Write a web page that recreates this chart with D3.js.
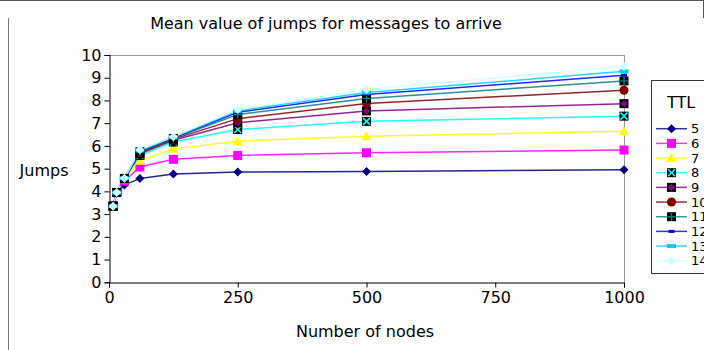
<!DOCTYPE html>
<html><head><meta charset="utf-8">
<script src="https://cdn.jsdelivr.net/npm/d3@7"></script>
<style>body{margin:0;background:#fff}svg{display:block}text{font-family:"DejaVu Sans",sans-serif}</style>
</head><body>
<script>
const nodes = [8, 15, 30, 60, 125, 250, 500, 1000];
const ttl = ["5","6","7","8","9","10","11","12","13","14"];
const s5  = [3.35, 3.93, 4.28, 4.57, 4.76, 4.85, 4.88, 4.95];
const s6  = [3.35, 3.95, 4.45, 5.07, 5.41, 5.58, 5.70, 5.82];
const s7  = [3.35, 3.95, 4.50, 5.35, 5.87, 6.21, 6.43, 6.64];
const s8  = [3.35, 3.95, 4.55, 5.58, 6.17, 6.72, 7.08, 7.31];
const s9  = [3.35, 3.95, 4.56, 5.65, 6.25, 7.02, 7.54, 7.86];
const s10 = [3.35, 3.95, 4.57, 5.70, 6.30, 7.20, 7.87, 8.45];
const s11 = [3.35, 3.95, 4.57, 5.74, 6.33, 7.38, 8.09, 8.86];
const s12 = [3.35, 3.95, 4.58, 5.77, 6.36, 7.48, 8.26, 9.11];
const s13 = [3.35, 3.95, 4.58, 5.80, 6.38, 7.54, 8.35, 9.28];
const s14 = [3.35, 3.95, 4.58, 5.83, 6.40, 7.60, 8.48, 9.51];
const seriesValues = [s5, s6, s7, s8, s9, s10, s11, s12, s13, s14];
const colors = ["#000080","#ff00ff","#ffff00","#00ffff","#800080","#800000","#008080","#0000ff","#00ccff","#ccffff"];
const markers = ["diamond","square","triangle","xsquare","starsquare","circle","plussquare","dash","bar","diamond"];
const xTicks = [0, 250, 500, 750, 1000];
const yTicks = [0,1,2,3,4,5,6,7,8,9,10];

const W = 704, H = 350;
const svg = d3.select("body").append("svg").attr("width", W).attr("height", H);

// outer frame fragments
svg.append("line").attr("x1",0).attr("x2",W).attr("y1",0.5).attr("y2",0.5).attr("stroke","#555");
svg.append("line").attr("x1",703.5).attr("x2",703.5).attr("y1",0).attr("y2",18).attr("stroke","#555");
svg.append("line").attr("x1",8.5).attr("x2",8.5).attr("y1",18).attr("y2",H).attr("stroke","#777");

const x = d3.scaleLinear().domain([0,1000]).range([109,624]);
const y = d3.scaleLinear().domain([0,10]).range([282.3,55]);

// plot frame (top/right gray)
svg.append("line").attr("x1",x(0)).attr("x2",x(1000)).attr("y1",55.5).attr("y2",55.5).attr("stroke","#999");
svg.append("line").attr("x1",624.5).attr("x2",624.5).attr("y1",55).attr("y2",282).attr("stroke","#999");

const yAxis = svg.append("g").attr("transform","translate(109.5,0)")
  .call(d3.axisLeft(y).tickValues(yTicks).tickFormat(d3.format("d")).tickSizeOuter(0).tickSize(5).tickPadding(3));
const xAxis = svg.append("g").attr("transform","translate(0,282.5)")
  .call(d3.axisBottom(x).tickValues(xTicks).tickFormat(d3.format("d")).tickSizeOuter(0).tickSize(5).tickPadding(4));
[yAxis, xAxis].forEach(a => {
  a.selectAll("text").attr("font-size", 16).attr("font-family", "DejaVu Sans").attr("fill","#000");
  a.selectAll("path,line").attr("stroke","#000");
});

svg.append("text").attr("x",326).attr("y",29).attr("text-anchor","middle").attr("font-size",16).text("Mean value of jumps for messages to arrive");
svg.append("text").attr("x",44).attr("y",176).attr("text-anchor","middle").attr("font-size",16).text("Jumps");
svg.append("text").attr("x",365).attr("y",337).attr("text-anchor","middle").attr("font-size",16).text("Number of nodes");

function drawMarker(g, type, color, cx, cy) {
  switch (type) {
    case "diamond":
      g.append("path").attr("d",`M${cx},${cy-4.5}L${cx+4.5},${cy}L${cx},${cy+4.5}L${cx-4.5},${cy}Z`).attr("fill",color); break;
    case "square":
      g.append("rect").attr("x",cx-4.5).attr("y",cy-4.5).attr("width",9).attr("height",9).attr("fill",color); break;
    case "triangle":
      g.append("path").attr("d",`M${cx},${cy-5}L${cx+5},${cy+4}L${cx-5},${cy+4}Z`).attr("fill",color); break;
    case "circle":
      g.append("circle").attr("cx",cx).attr("cy",cy).attr("r",4.5).attr("fill",color); break;
    case "xsquare":
      g.append("rect").attr("x",cx-4.5).attr("y",cy-4.5).attr("width",9).attr("height",9).attr("fill","#000");
      g.append("path").attr("d",`M${cx-3.5},${cy-3.5}L${cx+3.5},${cy+3.5}M${cx+3.5},${cy-3.5}L${cx-3.5},${cy+3.5}`).attr("stroke",color).attr("stroke-width",1.6); break;
    case "starsquare":
      g.append("rect").attr("x",cx-4.5).attr("y",cy-4.5).attr("width",9).attr("height",9).attr("fill","#000");
      g.append("circle").attr("cx",cx).attr("cy",cy).attr("r",2.6).attr("fill",color);
      g.append("path").attr("d",`M${cx-3.5},${cy}L${cx+3.5},${cy}M${cx},${cy-3.5}L${cx},${cy+3.5}M${cx-2.5},${cy-2.5}L${cx+2.5},${cy+2.5}M${cx+2.5},${cy-2.5}L${cx-2.5},${cy+2.5}`).attr("stroke",color).attr("stroke-width",1); break;
    case "plussquare":
      g.append("rect").attr("x",cx-4.5).attr("y",cy-4.5).attr("width",9).attr("height",9).attr("fill","#000");
      g.append("path").attr("d",`M${cx-4},${cy}L${cx+4},${cy}M${cx},${cy-4}L${cx},${cy+4}`).attr("stroke",color).attr("stroke-width",1.4); break;
    case "dash":
      g.append("rect").attr("x",cx-3).attr("y",cy-1.5).attr("width",6).attr("height",3).attr("fill",color); break;
    case "bar":
      g.append("rect").attr("x",cx-4.5).attr("y",cy-2).attr("width",9).attr("height",4).attr("fill",color); break;
  }
}

const line = d3.line().x((d,i) => x(nodes[i])).y(d => y(d));
const plot = svg.append("g");
seriesValues.forEach((vals, si) => {
  plot.append("path").datum(vals).attr("d", line).attr("fill","none")
    .attr("stroke", colors[si]).attr("stroke-width", 1.5).attr("stroke-opacity", 0.85);
});
seriesValues.forEach((vals, si) => {
  const g = plot.append("g");
  vals.forEach((v, i) => drawMarker(g, markers[si], colors[si], x(nodes[i]), y(v)));
});

// legend
const lg = svg.append("g");
lg.append("rect").attr("x",651.5).attr("y",80.5).attr("width",70).attr("height",193).attr("fill","#fff").attr("stroke","#333");
lg.append("text").attr("x",667).attr("y",108).attr("font-size",16).text("TTL");
ttl.forEach((t, i) => {
  const cy = 128.7 + i * 14.67;
  lg.append("line").attr("x1",656).attr("x2",687).attr("y1",cy).attr("y2",cy).attr("stroke",colors[i]).attr("stroke-width",1.5).attr("stroke-opacity",0.8);
  drawMarker(lg.append("g"), markers[i], colors[i], 671.5, cy);
  lg.append("text").attr("x",691).attr("y",cy).attr("dy","0.36em").attr("font-size",13).text(t);
});
</script>
</body></html>
